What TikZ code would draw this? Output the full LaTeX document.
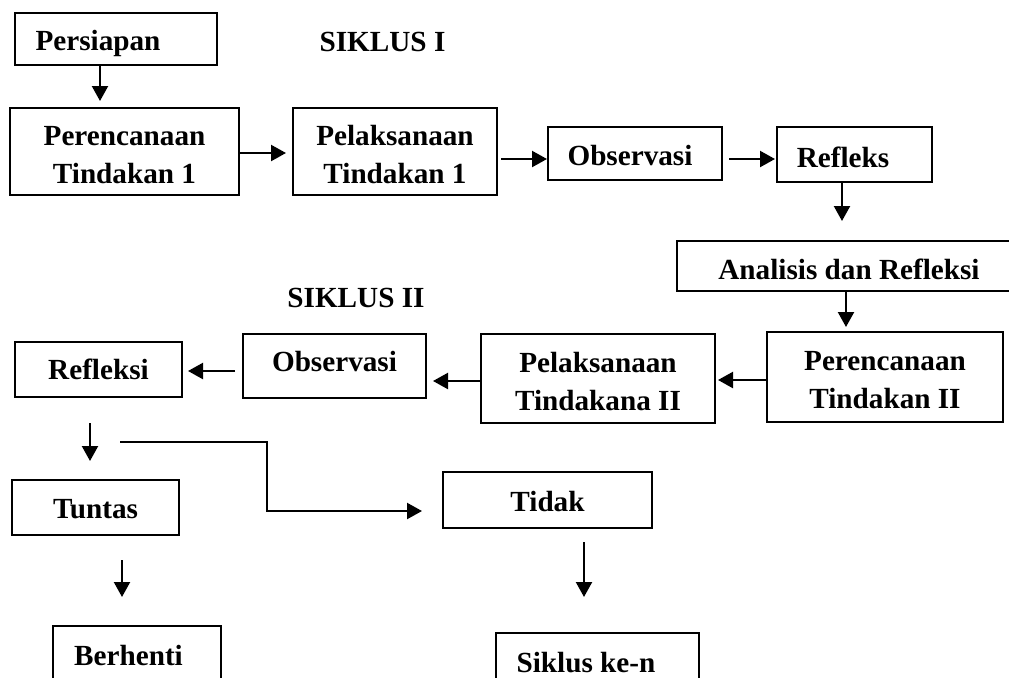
\documentclass[tikz,border=0pt]{standalone}
\usepackage{fontspec}
\setmainfont{Liberation Serif}
\usetikzlibrary{arrows.meta,calc}
\begin{document}
\begin{tikzpicture}[x=0.5pt,y=-0.5pt,
 box/.style={draw,line width=1pt,inner sep=0pt,font=\fontsize{14.6}{19}\selectfont\bfseries,text depth=0pt,text height=#1},
 box/.default=11pt,
 box2/.style={draw,line width=1pt,inner sep=0pt,font=\fontsize{14.6}{19}\selectfont\bfseries,align=center},
 arr/.style={line width=1.1pt,-{Triangle[length=7.5pt,width=8pt]}},
 lbl/.style={font=\fontsize{14.6}{19}\selectfont\bfseries,inner sep=0pt,anchor=base}]
\useasboundingbox (0,0) rectangle (1009,677);
\clip (0,0) rectangle (1009,677);
\fill[white] (0,0) rectangle (1009,677);

\node[box=11pt,minimum width=101pt,minimum height=26pt] (pers) at (116,39) {Persiapan\hspace*{18pt}};
\node[lbl] (s1) at (382.5,51) {SIKLUS I};
\node[box2,minimum width=114.5pt,minimum height=43.5pt] (per1) at (124.5,151.5) {\rule{0pt}{13pt}Perencanaan\\Tindakan 1};
\node[box2,minimum width=102pt,minimum height=43.5pt] (pel1) at (395,151.5) {\rule{0pt}{13pt}Pelaksanaan\\Tindakan 1};
\node[box=11.5pt,minimum width=87pt,minimum height=26.5pt] (obs1) at (635,153.5) {Observasi\hspace*{5pt}};
\node[box=12.5pt,minimum width=77.5pt,minimum height=27.5pt] (ref1) at (854.5,154.5) {Refleks\hspace*{11.5pt}};
\node[box=13pt,minimum width=172pt,minimum height=25pt] (anal) at (849,266) {Analisis dan Refleksi};
\node[lbl] (s2) at (356,307) {SIKLUS II};
\node[box2,minimum width=118pt,minimum height=45pt] (per2) at (885,377) {\rule{0pt}{13pt}Perencanaan\\Tindakan II};
\node[box2,minimum width=117pt,minimum height=44.5pt] (pel2) at (598,378.5) {\rule{0pt}{13pt}Pelaksanaan\\Tindakana II};
\node[box=5pt,minimum width=91.5pt,minimum height=32pt] (obs2) at (334.5,366) {Observasi};
\node[box=9.5pt,minimum width=83.5pt,minimum height=27.5pt] (refl) at (98.5,369.5) {Refleksi};
\node[box=10.5pt,minimum width=83.5pt,minimum height=27.5pt] (tunt) at (95.5,507.5) {Tuntas};
\node[box=11pt,minimum width=104.5pt,minimum height=28pt] (tidk) at (547.5,500) {Tidak};
\node[box=11pt,minimum width=84pt,minimum height=28pt] (berh) at (137,654) {Berhenti\hspace*{8.5pt}};
\node[box=11pt,minimum width=101.5pt,minimum height=28pt] (sikn) at (597.5,661) {Siklus ke-n\hspace*{11.5pt}};

\draw[arr] ($(pers.south)+(-16,0)$) -- ($(pers.south |- per1.north)+(-16,-6)$);
\draw[arr] ($(per1.east)+(0,1.5)$) -- ($(pel1.west)+(-6,1.5)$);
\draw[arr] ($(pel1.east |- obs1.west)+(3,5.5)$) -- ($(obs1.west)+(0,5.5)$);
\draw[arr] ($(obs1.east)+(6,5.5)$) -- ($(obs1.east -| ref1.west)+(-1,5.5)$);
\draw[arr] ($(ref1.south)+(-12.5,0)$) -- ($(ref1.south |- anal.north)+(-12.5,-19)$);
\draw[arr] ($(anal.south)+(-3,0)$) -- ($(anal.south |- per2.north)+(-3,-4)$);
\draw[arr] ($(per2.west)+(0,3)$) -- ($(per2.west -| pel2.east)+(2,3)$);
\draw[arr] ($(pel2.west)+(0,2.5)$) -- ($(pel2.west -| obs2.east)+(6,2.5)$);
\draw[arr] ($(obs2.west)+(-7,5)$) -- ($(obs2.west -| refl.east)+(5,5)$);
\draw[arr] ($(refl.south)+(-8.5,25)$) -- ($(tunt.north)+(-5.5,-18)$);
\coordinate (ys) at ($(refl.south)+(21.5,44)$);
\draw[arr] (ys) -| ($(tidk.west)+(-175,11)$) -- ($(tidk.west)+(-20,11)$);
\draw[arr] ($(tunt.south)+(26.5,24)$) -- ($(tunt.south |- berh.north)+(26.5,-28)$);
\draw[arr] ($(tidk.south)+(36.5,13)$) -- ($(tidk.south |- sikn.north)+(36.5,-35)$);
\end{tikzpicture}
\end{document}
